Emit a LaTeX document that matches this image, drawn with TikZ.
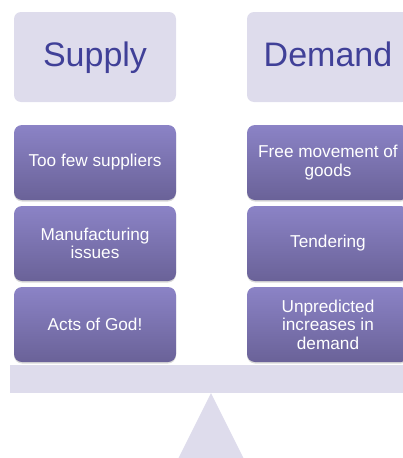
\documentclass[tikz,border=0pt]{standalone}
\usepackage{fontspec}
\setmainfont{Liberation Sans}
\usetikzlibrary{shadows}
\definecolor{hdr}{RGB}{222,220,236}
\definecolor{hdrtext}{RGB}{64,64,152}
\definecolor{ptop}{RGB}{139,131,198}
\definecolor{pbot}{RGB}{106,98,152}
\begin{document}
\begin{tikzpicture}[x=1pt,y=-1pt,
  header/.style={fill=hdr, rounded corners=7pt, minimum width=162pt, minimum height=90pt,
    text=hdrtext, font=\fontsize{34}{37}\selectfont, inner sep=0pt,
    text height=24pt, text depth=5pt},
  cause/.style={top color=ptop, bottom color=pbot, rounded corners=8pt,
    minimum width=162pt, minimum height=75pt, text=white, inner sep=0pt,
    font=\fontsize{17.2}{18.5}\selectfont, align=center,
    drop shadow={opacity=0.3, shadow xshift=0pt, shadow yshift=-1.5pt}}]
\useasboundingbox (0,0) rectangle (403,458);
\clip (0,0) rectangle (403,458);
% headers
\node[header] (supply) at (95,57) {Supply};
\node[header] (demand) at (328,57) {Demand};
% supply causes
\node[cause] (s1) at (95,162.5) {Too few suppliers};
\node[cause] (s2) at (95,243.5) {Manufacturing\\issues};
\node[cause] (s3) at (95,324.5) {Acts of God!};
% demand causes
\node[cause] (d1) at (328,162.5) {Free movement of\\goods};
\node[cause] (d2) at (328,243.5) {Tendering};
\node[cause] (d3) at (328,324.5) {Unpredicted\\increases in\\demand};
% beam and fulcrum
\fill[hdr] (10,365) rectangle (412,393);
\fill[hdr] (211,393) -- (176,463) -- (246,463) -- cycle;
\end{tikzpicture}
\end{document}
